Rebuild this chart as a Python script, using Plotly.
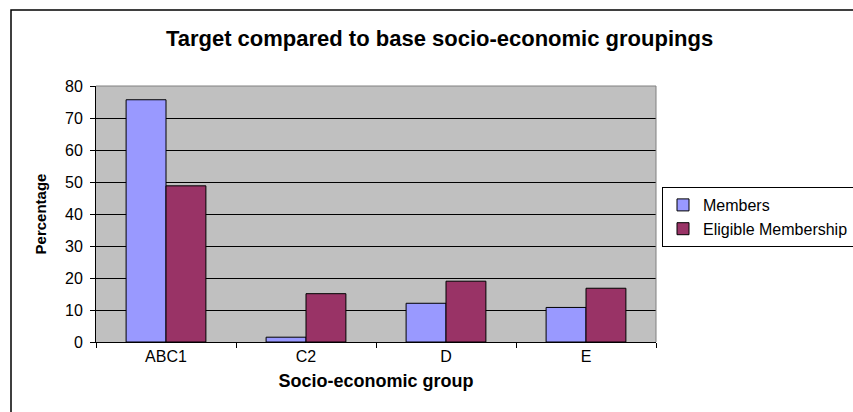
import plotly.graph_objects as go

categories = ["ABC1", "C2", "D", "E"]
members = [75.7, 1.5, 12.1, 10.8]
eligible = [48.8, 15.1, 19.0, 16.8]
y_ticks = [0, 10, 20, 30, 40, 50, 60, 70, 80]

W, H = 853, 412
L, R, T, B = 96, 656, 86, 342

fig = go.Figure()
fig.add_trace(go.Bar(name="Members", x=categories, y=members,
                     marker=dict(color="#9999FF", line=dict(color="black", width=1))))
fig.add_trace(go.Bar(name="Eligible Membership", x=categories, y=eligible,
                     marker=dict(color="#993366", line=dict(color="black", width=1))))

def px_x(p):
    return (p - L) / (R - L)

def px_y(p):
    return (B - p) / (B - T)

fig.update_layout(
    width=W, height=H,
    margin=dict(l=L, r=W - R, t=T, b=H - B, pad=0, autoexpand=False),
    paper_bgcolor="white",
    plot_bgcolor="#C0C0C0",
    barmode="group",
    bargap=0.43,
    bargroupgap=0,
    font=dict(family="Arial", color="black", size=15),
    title=dict(text="<b>Target compared to base socio-economic groupings</b>",
               x=439.5 / W, xanchor="center", y=1 - 38 / H, yanchor="middle",
               font=dict(size=22, family="Arial", color="black")),
    legend=dict(x=px_x(662), y=px_y(187), xanchor="left", yanchor="top",
                bordercolor="black", borderwidth=1, bgcolor="white",
                font=dict(size=16, family="Arial"), tracegroupgap=0,
                itemwidth=30),
    showlegend=True,
)

fig.update_xaxes(
    type="category",
    showline=True, linecolor="black", linewidth=1,
    ticks="outside", tickson="boundaries", ticklen=5, tickcolor="black",
    tickfont=dict(size=16),
    title=dict(text="<b>Socio-economic group</b>", font=dict(size=18), standoff=10),
    showgrid=False,
)
fig.update_yaxes(
    range=[0, 80], tickvals=y_ticks,
    showline=True, linecolor="black", linewidth=1,
    ticks="outside", ticklen=5, tickcolor="black",
    tickfont=dict(size=16), ticklabelstandoff=4,
    showgrid=True, gridcolor="black", gridwidth=1,
    zeroline=False,
    title=dict(text="<b>Percentage</b>", font=dict(size=15), standoff=14),
)

# plot area grey border on top/right
fig.add_shape(type="line", xref="paper", yref="paper", x0=0, x1=1, y0=1, y1=1,
              line=dict(color="#808080", width=1), layer="above")
fig.add_shape(type="line", xref="paper", yref="paper", x0=1, x1=1, y0=0, y1=1,
              line=dict(color="#808080", width=1), layer="above")
# outer chart border (extends beyond visible area right/bottom)
fig.add_shape(type="rect", xref="paper", yref="paper",
              x0=px_x(11), x1=px_x(870), y0=px_y(430), y1=px_y(10),
              line=dict(color="black", width=1.5), fillcolor="rgba(0,0,0,0)", layer="above")

fig.write_html("out.html")
